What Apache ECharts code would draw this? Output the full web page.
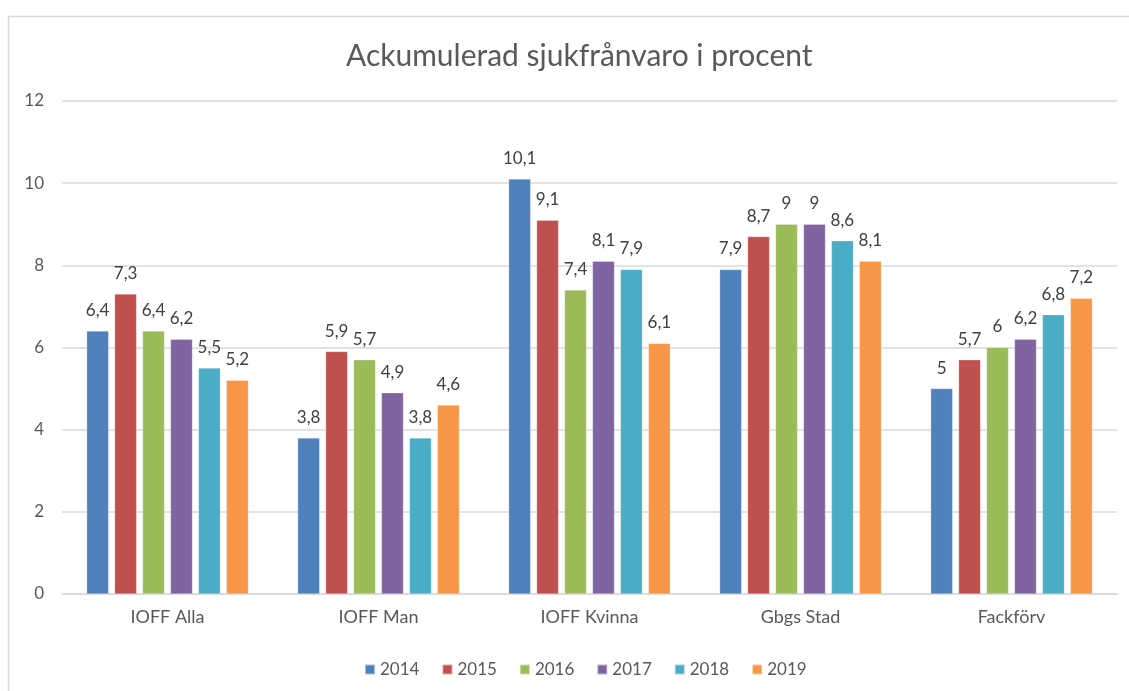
<!DOCTYPE html>
<html>
<head>
<meta charset="utf-8">
<script src="https://cdn.jsdelivr.net/npm/echarts@6/dist/echarts.min.js"></script>
<style>
html,body{margin:0;padding:0;background:#fff;}
#c{width:1129px;height:691px;}
</style>
</head>
<body>
<div id="c"></div>
<script>
const categories = ['IOFF Alla', 'IOFF Man', 'IOFF Kvinna', 'Gbgs Stad', 'Fackförv'];
const years = ['2014', '2015', '2016', '2017', '2018', '2019'];
const v2014 = [6.4, 3.8, 10.1, 7.9, 5];
const v2015 = [7.3, 5.9, 9.1, 8.7, 5.7];
const v2016 = [6.4, 5.7, 7.4, 9, 6];
const v2017 = [6.2, 4.9, 8.1, 9, 6.2];
const v2018 = [5.5, 3.8, 7.9, 8.6, 6.8];
const v2019 = [5.2, 4.6, 6.1, 8.1, 7.2];
const yTicks = [0, 2, 4, 6, 8, 10, 12];

const colors = ['#4f81bd', '#c0504d', '#9bbb59', '#8064a2', '#4bacc6', '#f79646'];
const seriesData = [v2014, v2015, v2016, v2017, v2018, v2019];
const FONT = 'Lato, "Open Sans", sans-serif';

const chart = echarts.init(document.getElementById('c'));
chart.setOption({
  animation: false,
  color: colors,
  graphic: [{
    type: 'rect',
    shape: {x: 8.5, y: 16.5, width: 1300, height: 900},
    style: {fill: 'none', stroke: '#d9d9d9', lineWidth: 1.5},
    silent: true, z: -1
  }],
  title: {
    text: 'Ackumulerad sjukfrånvaro i procent',
    left: 341,
    top: 36,
    textStyle: {fontFamily: FONT, fontSize: 30, fontWeight: 'normal', color: '#595959'}
  },
  legend: {
    top: 656,
    left: 359,
    itemWidth: 10, itemHeight: 10, itemGap: 22,
    icon: 'rect',
    textStyle: {fontFamily: FONT, fontSize: 17, color: '#595959'},
    data: years
  },
  grid: {left: 62, right: 12, top: 101, bottom: 97, containLabel: false},
  xAxis: {
    type: 'category',
    data: categories,
    axisLine: {lineStyle: {color: '#d9d9d9', width: 1.5}},
    axisTick: {show: false},
    axisLabel: {fontFamily: FONT, fontSize: 18, color: '#595959', margin: 14}
  },
  yAxis: {
    type: 'value',
    min: yTicks[0], max: yTicks[yTicks.length - 1], interval: 2,
    axisLine: {show: false},
    axisTick: {show: false},
    splitLine: {lineStyle: {color: '#d9d9d9', width: 1.5}},
    axisLabel: {fontFamily: FONT, fontSize: 17, color: '#595959', margin: 18}
  },
  series: years.map((y, i) => ({
    name: y,
    type: 'bar',
    data: seriesData[i],
    barWidth: 22,
    barGap: '27%',
    itemStyle: {color: colors[i], borderColor: 'rgba(255,255,255,0.5)', borderWidth: 0.5},
    label: {
      show: true,
      position: 'top',
      distance: 12,
      fontFamily: FONT,
      fontSize: 17,
      color: '#404040',
      formatter: p => String(p.value).replace('.', ',')
    }
  }))
});
</script>
</body>
</html>
